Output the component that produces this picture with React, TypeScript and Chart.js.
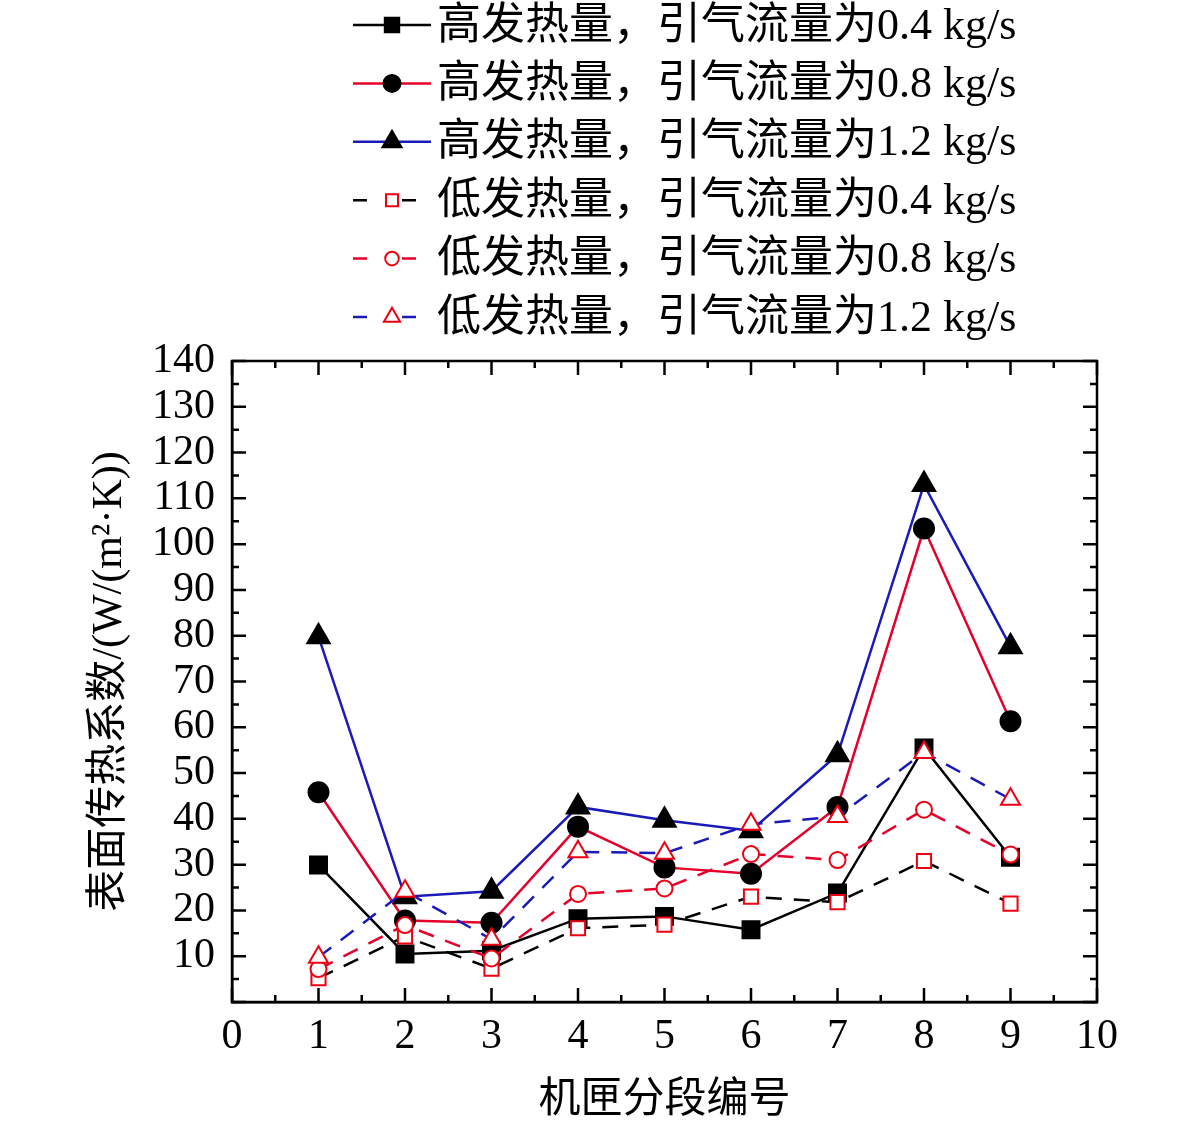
import React, { useEffect, useRef } from 'react';
import { Chart, registerables } from 'chart.js';

Chart.register(...registerables);

// ---- data ----
const categories = [1, 2, 3, 4, 5, 6, 7, 8, 9];
const high04 = [29.9, 10.5, 11.2, 18.2, 18.7, 15.8, 23.8, 55.5, 31.6];
const high08 = [45.8, 17.8, 17.3, 38.3, 29.4, 28.0, 42.6, 103.4, 61.3];
const high12 = [79.8, 23.0, 24.2, 42.6, 39.7, 37.4, 54.0, 113.0, 77.6];
const low04 = [5.2, 14.3, 7.3, 16.1, 16.9, 23.0, 21.8, 30.8, 21.5];
const low08 = [7.2, 16.8, 9.5, 23.6, 24.8, 32.3, 31.0, 42.0, 32.2];
const low12 = [9.8, 24.2, 13.7, 32.8, 32.5, 38.8, 40.5, 54.5, 44.3];
const seriesLabels = [
  '高发热量，引气流量为0.4 kg/s',
  '高发热量，引气流量为0.8 kg/s',
  '高发热量，引气流量为1.2 kg/s',
  '低发热量，引气流量为0.4 kg/s',
  '低发热量，引气流量为0.8 kg/s',
  '低发热量，引气流量为1.2 kg/s',
];
const xTitle = '机匣分段编号';
const yTitle = '表面传热系数/(W/(m²·K))';

const FONT = "'Liberation Serif', 'Noto Sans CJK SC', serif";
const BLACK = '#000000';
const RED = '#E4002B';
const BLUE = '#1A1AB8';
const MARK_RED = '#EE0010';

const toXY = (vals: number[]) => vals.map((v, i) => ({ x: categories[i], y: v }));

type Spec = {
  data: number[];
  line: string;
  dashed: boolean;
  style: 'rect' | 'circle' | 'triangle';
  radius: number;
  fill: string;
  stroke: string;
};

const specs: Spec[] = [
  { data: high04, line: BLACK, dashed: false, style: 'rect', radius: 12, fill: BLACK, stroke: BLACK },
  { data: high08, line: RED, dashed: false, style: 'circle', radius: 10, fill: BLACK, stroke: BLACK },
  { data: high12, line: BLUE, dashed: false, style: 'triangle', radius: 13, fill: BLACK, stroke: BLACK },
  { data: low04, line: BLACK, dashed: true, style: 'rect', radius: 10, fill: '#FFFFFF', stroke: MARK_RED },
  { data: low08, line: RED, dashed: true, style: 'circle', radius: 8, fill: '#FFFFFF', stroke: MARK_RED },
  { data: low12, line: BLUE, dashed: true, style: 'triangle', radius: 11, fill: '#FFFFFF', stroke: MARK_RED },
];

function drawMarker(ctx: CanvasRenderingContext2D, style: string, x: number, y: number, r: number, fill: string, stroke: string, lw: number) {
  ctx.beginPath();
  if (style === 'rect') {
    const s = r * Math.SQRT1_2;
    ctx.rect(x - s, y - s, 2 * s, 2 * s);
  } else if (style === 'circle') {
    ctx.arc(x, y, r, 0, Math.PI * 2);
  } else {
    let a = 0;
    ctx.moveTo(x + Math.sin(a) * r, y - Math.cos(a) * r);
    a += (2 * Math.PI) / 3;
    ctx.lineTo(x + Math.sin(a) * r, y - Math.cos(a) * r);
    a += (2 * Math.PI) / 3;
    ctx.lineTo(x + Math.sin(a) * r, y - Math.cos(a) * r);
    ctx.closePath();
  }
  ctx.fillStyle = fill;
  ctx.fill();
  ctx.lineWidth = lw;
  ctx.strokeStyle = stroke;
  ctx.setLineDash([]);
  ctx.stroke();
}

const framePlugin = {
  id: 'frameTicks',
  afterDatasetsDraw(chart: any) {
    const { ctx, chartArea, scales } = chart;
    const { left, right, top, bottom } = chartArea;
    const xs = scales.x;
    const ys = scales.y;
    ctx.save();
    ctx.strokeStyle = BLACK;
    ctx.lineWidth = 2.5;
    ctx.setLineDash([]);
    ctx.strokeRect(left, top, right - left, bottom - top);
    ctx.beginPath();
    for (let v = 0; v <= 10.001; v += 0.5) {
      const px = xs.getPixelForValue(v);
      const len = Math.abs(v - Math.round(v)) < 1e-6 ? 14 : 7;
      ctx.moveTo(px, bottom);
      ctx.lineTo(px, bottom - len);
      ctx.moveTo(px, top);
      ctx.lineTo(px, top + len);
    }
    for (let v = 0; v <= 140.001; v += 5) {
      const py = ys.getPixelForValue(v);
      const len = v % 10 === 0 ? 14 : 7;
      ctx.moveTo(left, py);
      ctx.lineTo(left + len, py);
      ctx.moveTo(right, py);
      ctx.lineTo(right - len, py);
    }
    ctx.stroke();
    ctx.restore();
  },
  afterDraw(chart: any) {
    const { ctx } = chart;
    ctx.save();
    const rowY0 = 25;
    const rowGap = 58.4;
    specs.forEach((s, i) => {
      const y = rowY0 + i * rowGap;
      ctx.strokeStyle = s.line;
      ctx.lineWidth = 2.5;
      ctx.beginPath();
      if (s.dashed) {
        ctx.setLineDash([14, 35]);
        ctx.moveTo(353, y);
        ctx.lineTo(417, y);
      } else {
        ctx.setLineDash([]);
        ctx.moveTo(353, y);
        ctx.lineTo(431, y);
      }
      ctx.stroke();
      ctx.setLineDash([]);
      drawMarker(ctx, s.style, 392, y, s.radius * 0.85, s.fill, s.stroke, 2);
      ctx.fillStyle = BLACK;
      ctx.font = `44px ${FONT}`;
      ctx.textBaseline = 'middle';
      ctx.textAlign = 'left';
      ctx.fillText(seriesLabels[i], 437, y + 2);
    });
    ctx.restore();
  },
};

export default function App() {
  const ref = useRef<HTMLCanvasElement | null>(null);
  useEffect(() => {
    document.body.style.margin = '0';
    if (!ref.current) return;
    const datasets = specs.map((s, i) => ({
      label: seriesLabels[i],
      data: toXY(s.data),
      borderColor: s.line,
      borderWidth: 2.5,
      borderDash: s.dashed ? [16, 12] : [],
      pointStyle: s.style,
      pointRadius: s.radius,
      pointBackgroundColor: s.fill,
      pointBorderColor: s.stroke,
      pointBorderWidth: 2,
      fill: false,
      tension: 0,
      order: 6 - i,
    }));
    const chart = new Chart(ref.current, {
      type: 'line',
      data: { datasets },
      options: {
        animation: false,
        responsive: true,
        maintainAspectRatio: false,
        layout: { padding: { top: 361, right: 84, left: 0, bottom: 0 } },
        plugins: {
          legend: { display: false },
          tooltip: { enabled: false },
        },
        scales: {
          x: {
            type: 'linear',
            min: 0,
            max: 10,
            grid: { display: false, drawTicks: false },
            border: { display: true, color: BLACK, width: 2.5 },
            ticks: {
              stepSize: 1,
              autoSkip: false,
              color: BLACK,
              padding: 10,
              maxRotation: 0,
              font: { family: FONT, size: 42 },
            },
            title: {
              display: true,
              text: xTitle,
              color: BLACK,
              font: { family: FONT, size: 42, lineHeight: 1.2 },
              padding: { top: 0, bottom: 5 },
            },
            afterFit(scale: any) {
              scale.height = 129;
            },
          },
          y: {
            type: 'linear',
            min: 0,
            max: 140,
            grid: { display: false, drawTicks: false },
            border: { display: true, color: BLACK, width: 2.5 },
            ticks: {
              stepSize: 10,
              autoSkip: false,
              color: BLACK,
              padding: 17,
              font: { family: FONT, size: 42 },
              callback: (v: any) => (v === 0 ? '' : String(v)),
            },
            title: {
              display: true,
              text: yTitle,
              color: BLACK,
              font: { family: FONT, size: 42, lineHeight: 1.2 },
              padding: { top: 85, bottom: 0 },
            },
            afterFit(scale: any) {
              scale.width = 232;
            },
          },
        },
      },
      plugins: [framePlugin],
    } as any);
    return () => chart.destroy();
  }, []);
  return (
    <div style={{ position: 'absolute', left: 0, top: 0, width: 1181, height: 1131, background: '#ffffff' }}>
      <canvas ref={ref} />
    </div>
  );
}
